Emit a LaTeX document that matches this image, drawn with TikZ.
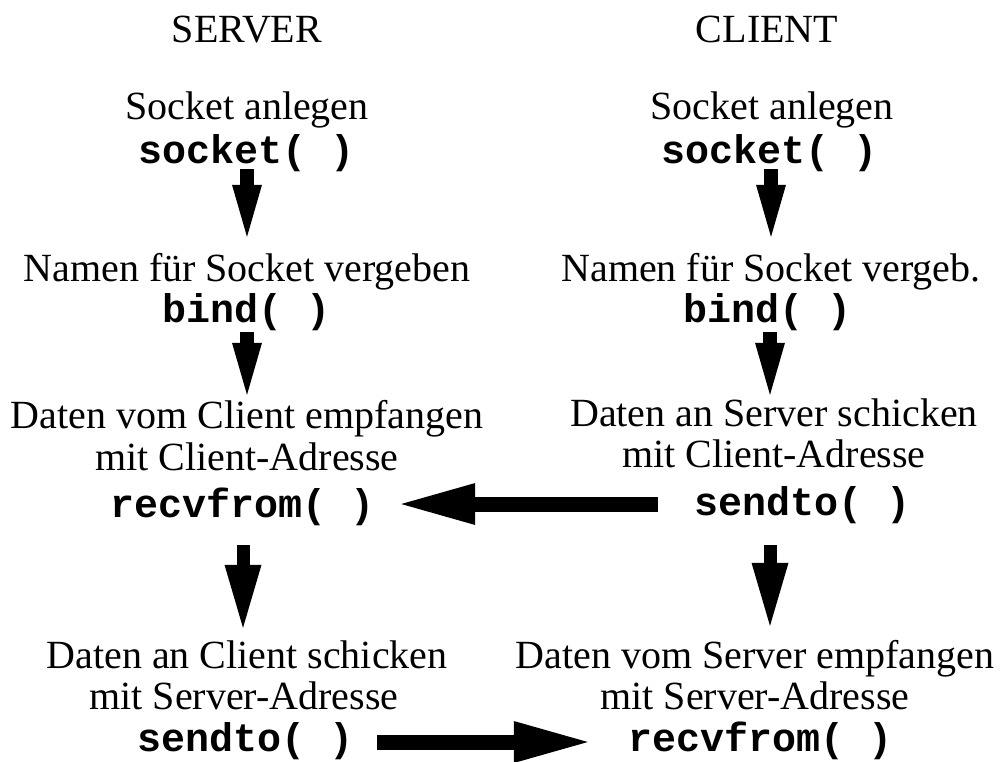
\documentclass[tikz,border=0pt]{standalone}
\usepackage{fontspec}
\setmainfont{Liberation Serif}
\setmonofont{Liberation Mono}
\usetikzlibrary{arrows.meta}

\tikzset{
  txt/.style={inner sep=0pt, anchor=base, text height=28pt, text depth=6pt,
    font=\rmfamily\fontsize{40}{44}\selectfont},
  fn/.style={txt, font=\ttfamily\bfseries\fontsize{40}{44}\selectfont},
  downshort/.style={line width=14pt,
    -{Triangle[length=52pt,width=30pt,line width=0pt]}},
  downlong/.style={line width=13pt,
    -{Triangle[length=63pt,width=37pt,line width=0pt]}},
  across/.style={line width=15pt,
    -{Triangle[length=74pt,width=42pt,line width=0pt]}}
}

\begin{document}
\begin{tikzpicture}[x=1pt,y=-1pt]
\useasboundingbox (0,0) rectangle (1000,761);

% column headings
\node[txt] (srv) at (247,42) {SERVER};
\node[txt] (cli) at (767,42) {CLIENT};

% server side
\node[txt] (sockLd) at (247,119) {Socket anlegen};
\node[fn]  (sockLf) at (247,163) {socket( )};
\node[txt] (nameLd) at (247,281) {Namen für Socket vergeben};
\node[fn]  (bindLf) at (247,322) {bind( )};
\node[txt] (recvLd) at (247,428) {Daten vom Client empfangen};
\node[txt] (recvLa) at (247,470) {mit Client-Adresse};
\node[fn]  (recvLf) at (243,517) {recvfrom( )};
\node[txt] (sendLd) at (247,668) {Daten an Client schicken};
\node[txt] (sendLa) at (244,709) {mit Server-Adresse};
\node[fn]  (sendLf) at (246,751) {sendto( )};

% client side
\node[txt] (sockRd) at (772,119) {Socket anlegen};
\node[fn]  (sockRf) at (770,163) {socket( )};
\node[txt] (nameRd) at (771,281) {Namen für Socket vergeb.};
\node[fn]  (bindRf) at (768,322) {bind( )};
\node[txt] (sendRd) at (774,426) {Daten an Server schicken};
\node[txt] (sendRa) at (774,467) {mit Client-Adresse};
\node[fn]  (sendRf) at (803,515) {sendto( )};
\node[txt] (recvRd) at (755,668) {Daten vom Server empfangen};
\node[txt] (recvRa) at (755,709) {mit Server-Adresse};
\node[fn]  (recvRf) at (761,751) {recvfrom( )};

% server flow
\draw[downshort, shorten >=16pt] (sockLf.south) -- (sockLf.south |- nameLd.north);
\draw[downshort, shorten <=4pt, shorten >=5pt] (bindLf.south) -- (bindLf.south |- recvLd.north);
\draw[downlong, shorten <=22pt, shorten >=12pt] (recvLf.south) -- (recvLf.south |- sendLd.north);

% client flow
\draw[downshort, shorten >=16pt] ([xshift=1pt]sockRf.south) -- ([xshift=1pt]sockRf.south |- nameRd.north);
\draw[downshort, shorten <=4pt, shorten >=3pt] ([xshift=2pt]bindRf.south) -- ([xshift=2pt]bindRf.south |- sendRd.north);
\draw[downlong, shorten <=24pt, shorten >=14pt] ([xshift=-33pt]sendRf.south) -- ([xshift=-33pt]sendRf.south |- recvRd.north);

% datagrams between the two sides
\draw[across, shorten <=37pt, shorten >=26pt] (sendRf.west) -- (sendRf.west -| recvLf.east);
\draw[across, shorten <=23pt, shorten >=41pt] ([yshift=-2pt]sendLf.east) -- ([yshift=-2pt]sendLf.east -| recvRf.west);
\end{tikzpicture}
\end{document}
